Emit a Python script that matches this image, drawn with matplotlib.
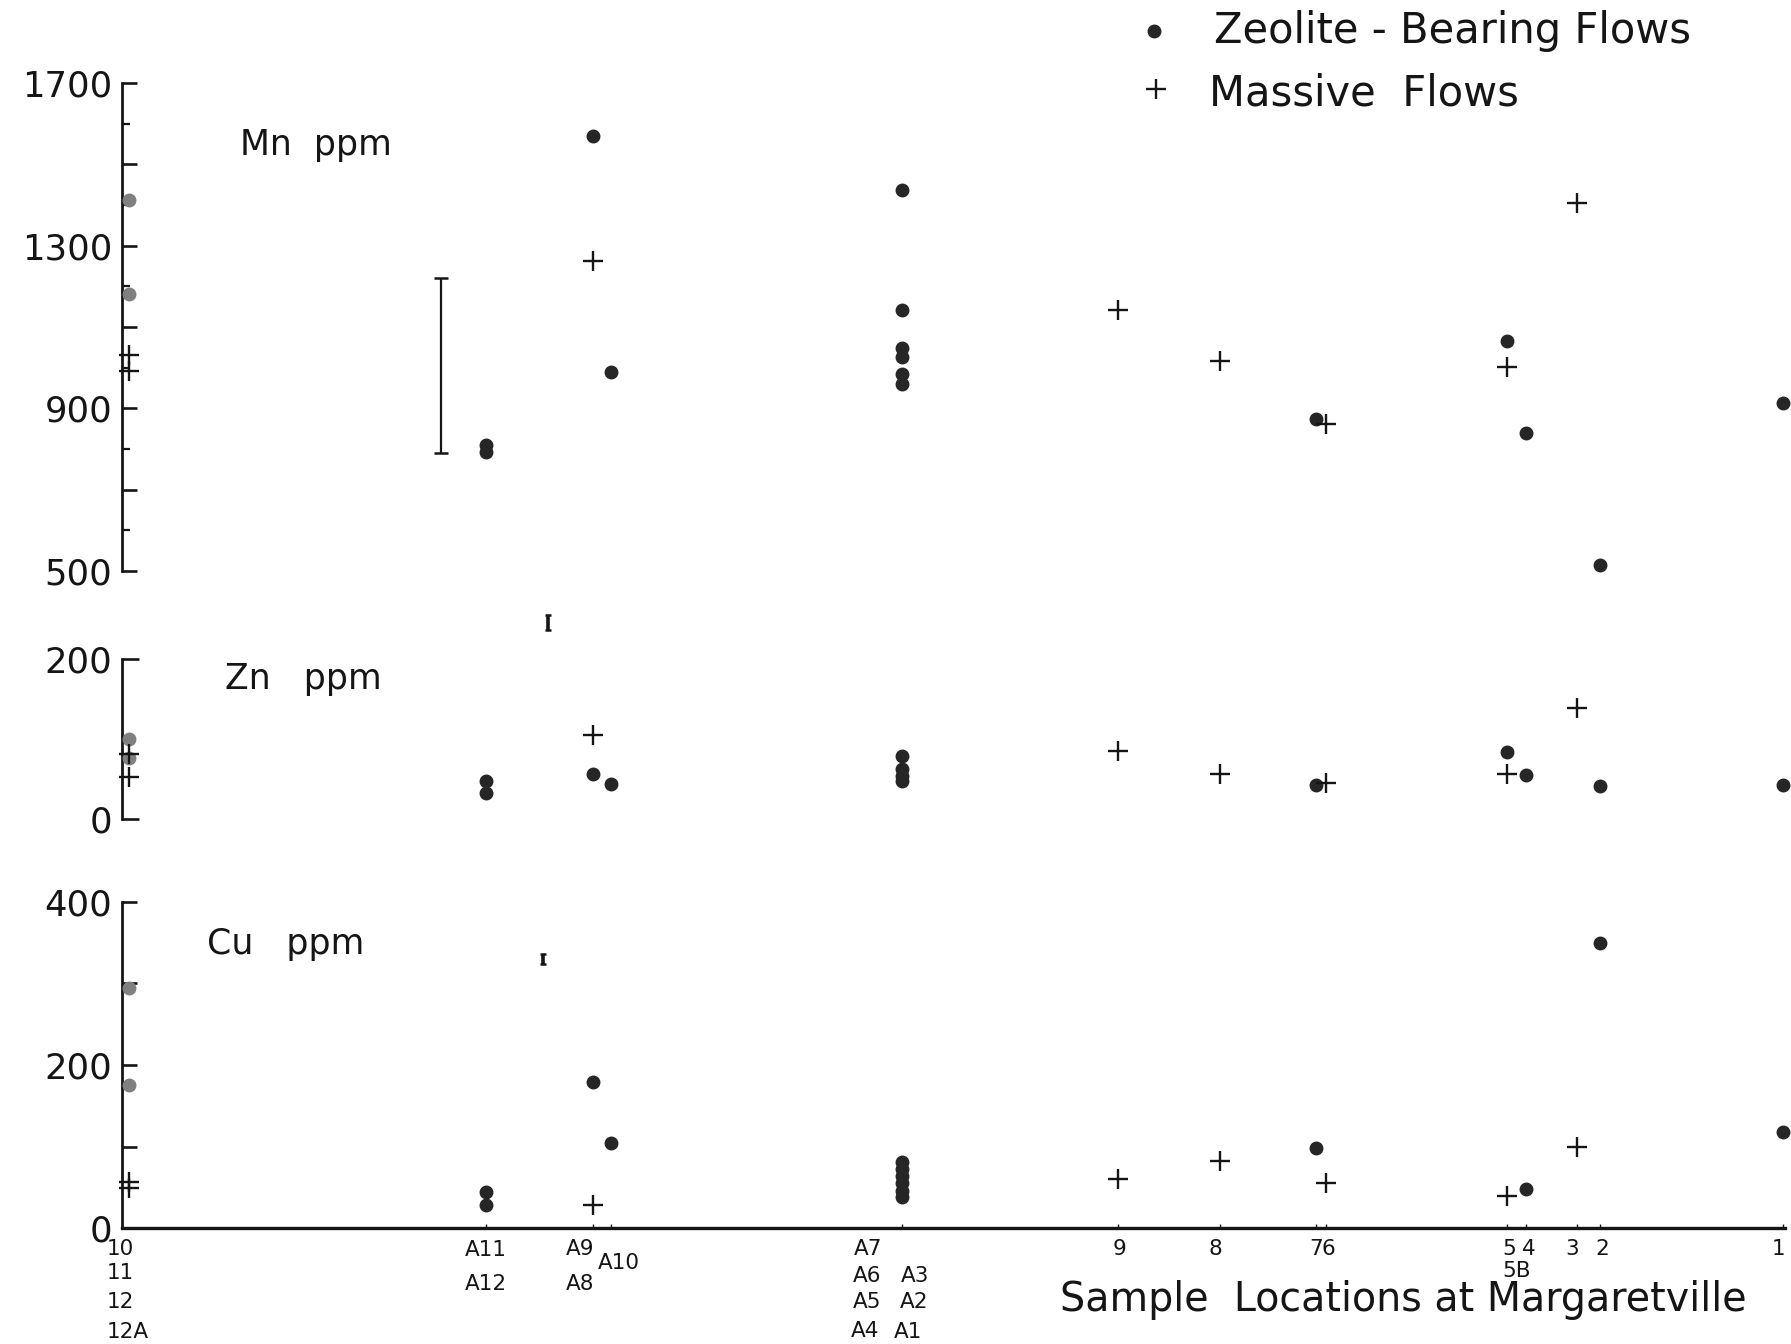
import matplotlib
matplotlib.use("Agg")
import matplotlib.pyplot as plt
from matplotlib.lines import Line2D
from matplotlib.ticker import FixedLocator, FixedFormatter
from matplotlib.transforms import blended_transform_factory

plt.rcParams["font.family"] = ["DejaVu Sans"]

# Sample locations along the Margaretville shore section (relative distance 0-100)
locations = ["10-12A", "A11-A12", "A8-A9", "A10", "A1-A7", "9", "8", "7", "6",
             "5", "4", "3", "2", "1"]
location_pos = [0.4, 21.9, 28.3, 29.4, 46.9, 59.9, 66.0, 71.8, 72.4,
                83.3, 84.4, 87.5, 88.9, 99.9]

# Mn (ppm)
mn_zeolite_loc = ["10-12A", "10-12A", "A11-A12", "A11-A12", "A8-A9", "A10",
                  "A1-A7", "A1-A7", "A1-A7", "A1-A7", "A1-A7", "A1-A7",
                  "7", "5", "4", "2", "1"]
mn_zeolite_ppm = [1413, 1180, 810, 793, 1570, 990,
                  1438, 1143, 1048, 1027, 984, 961,
                  873, 1066, 840, 515, 912]
mn_massive_loc = ["10-12A", "10-12A", "A8-A9", "9", "8", "6", "5", "3"]
mn_massive_ppm = [1030, 992, 1262, 1143, 1016, 861, 1002, 1405]

# Zn (ppm)
zn_zeolite_loc = ["10-12A", "10-12A", "A11-A12", "A11-A12", "A8-A9", "A10",
                  "A1-A7", "A1-A7", "A1-A7", "A1-A7",
                  "7", "5", "4", "2", "1"]
zn_zeolite_ppm = [100, 76, 47, 33, 56, 44,
                  79, 62, 54, 47,
                  43, 84, 55, 41, 43]
zn_massive_loc = ["10-12A", "10-12A", "A8-A9", "9", "8", "6", "5", "3"]
zn_massive_ppm = [82, 53, 105, 85, 56, 45, 56, 139]

# Cu (ppm)
cu_zeolite_loc = ["10-12A", "10-12A", "A11-A12", "A11-A12", "A8-A9", "A10",
                  "A1-A7", "A1-A7", "A1-A7", "A1-A7", "A1-A7", "A1-A7",
                  "7", "4", "2", "1"]
cu_zeolite_ppm = [294, 176, 44, 29, 179, 104,
                  81, 73, 64, 55, 46, 38,
                  98, 48, 350, 118]
cu_massive_loc = ["10-12A", "10-12A", "A8-A9", "9", "8", "6", "5", "3"]
cu_massive_ppm = [57, 49, 29, 60, 82, 56, 40, 100]

# Analytical precision bars (position, centre, half-range) for Mn, Zn, Cu
precision_x = [19.2, 25.6, 25.3]
precision_mid = [1004.5, 246, 330]
precision_half = [215.5, 9, 6]

# Axis ranges and ticks
mn_range = (500, 1700)
zn_range = (0, 200)
cu_range = (0, 400)
mn_ticks = [500, 700, 900, 1100, 1300, 1500, 1700]
mn_tick_labels = ["500", "", "900", "", "1300", "", "1700"]
mn_minor = [600, 800, 1000, 1200, 1400, 1600]
zn_ticks = [0, 200]
zn_tick_labels = ["0", "200"]
cu_ticks = [0, 100, 200, 300, 400]
cu_tick_labels = ["0", "", "200", "", "400"]

INK = "#151515"
DOT = "#262626"
FADED = "#808080"

W, H = 1791, 1344
fig = plt.figure(figsize=(W / 100, H / 100), dpi=100)
fig.patch.set_facecolor("white")


def rect(left, right, top, bottom):
    return [left / W, 1 - bottom / H, (right - left) / W, (bottom - top) / H]


def label_at(txt, x, y, size):
    fig.text(x / W, 1 - y / H, txt, fontsize=size, color=INK, ha="left", va="center")


ax_mn = fig.add_axes(rect(122, 1785, 83, 571))
ax_zn = fig.add_axes(rect(122, 1785, 659.3, 819))
ax_cu = fig.add_axes(rect(122, 1785, 901.7, 1228.3))

pos_of = dict(zip(locations, location_pos))


def draw_panel(ax, zl, zv, ml, mv):
    zx = [pos_of[l] for l in zl]
    zc = [FADED if l == locations[0] else DOT for l in zl]
    for x, v, c in zip(zx, zv, zc):
        ax.plot(x, v, "o", ms=9.0, color=c, mec=c, clip_on=False, zorder=3)
    ax.plot([pos_of[l] for l in ml], mv, "+", ms=15, mew=1.7, color=INK,
            linestyle="none", clip_on=False, zorder=3)


draw_panel(ax_mn, mn_zeolite_loc, mn_zeolite_ppm, mn_massive_loc, mn_massive_ppm)
draw_panel(ax_zn, zn_zeolite_loc, zn_zeolite_ppm, zn_massive_loc, zn_massive_ppm)
draw_panel(ax_cu, cu_zeolite_loc, cu_zeolite_ppm, cu_massive_loc, cu_massive_ppm)

for ax, x, m, h, cs, lw in zip([ax_mn, ax_zn, ax_cu], precision_x, precision_mid,
                               precision_half, [5, 2.5, 2.5], [1.6, 2.6, 2.6]):
    ax.errorbar(x, m, yerr=h, fmt="none", ecolor=INK, elinewidth=lw,
                capsize=cs, capthick=1.8, clip_on=False)

for ax, rng, ticks, labels in [(ax_mn, mn_range, mn_ticks, mn_tick_labels),
                               (ax_zn, zn_range, zn_ticks, zn_tick_labels),
                               (ax_cu, cu_range, cu_ticks, cu_tick_labels)]:
    ax.set_xlim(0, 100)
    ax.set_ylim(*rng)
    ax.patch.set_alpha(0)
    for s in ["top", "right", "bottom"]:
        ax.spines[s].set_visible(False)
    ax.spines["left"].set_linewidth(2.0)
    ax.spines["left"].set_color(INK)
    ax.yaxis.set_major_locator(FixedLocator(ticks))
    ax.yaxis.set_major_formatter(FixedFormatter(labels))
    ax.tick_params(axis="y", which="major", direction="in", length=11, width=1.9,
                   pad=7, labelsize=25.5, colors=INK)
    ax.set_xticks([])

ax_mn.yaxis.set_minor_locator(FixedLocator(mn_minor))
ax_mn.tick_params(axis="y", which="minor", direction="in", length=5.5, width=1.6,
                  colors=INK)
ax_zn.tick_params(axis="y", which="major", length=12)

# sample-location axis along the bottom of the Cu panel
ax_cu.spines["bottom"].set_visible(True)
ax_cu.spines["bottom"].set_linewidth(2.4)
ax_cu.spines["bottom"].set_color(INK)
ax_cu.set_xticks(location_pos[1:])
ax_cu.tick_params(axis="x", direction="in", length=3, width=1.0, labelbottom=False,
                  colors=INK)

# panel titles
label_at("Mn  ppm", 240, 145, 25)
label_at("Zn   ppm", 225, 679, 25)
label_at("Cu   ppm", 207, 944, 25)

# sample labels under the location axis
bottom_labels = [
    ("10", -0.9, 1249, "left"), ("11", -0.9, 1273, "left"),
    ("12", -0.9, 1302, "left"), ("12A", -0.9, 1332, "left"),
    ("A11", 21.86, 1250, "center"), ("A12", 21.86, 1284, "center"),
    ("A9", 27.56, 1249, "center"), ("A8", 27.56, 1284, "center"),
    ("A10", 29.9, 1263, "center"),
    ("A7", 44.86, 1249, "center"), ("A6", 44.8, 1276, "center"),
    ("A5", 44.8, 1302, "center"), ("A4", 44.66, 1331, "center"),
    ("A3", 47.69, 1276, "center"), ("A2", 47.62, 1302, "center"),
    ("A1", 47.28, 1332, "center"),
    ("9", 59.98, 1249, "center"), ("8", 65.76, 1249, "center"),
    ("7", 71.8, 1249, "center"), ("6", 72.55, 1249, "center"),
    ("5", 83.4, 1249, "center"), ("4", 84.6, 1249, "center"),
    ("5B", 83.83, 1271, "center"), ("3", 87.2, 1249, "center"),
    ("2", 89.0, 1249, "center"), ("1", 99.6, 1249, "center"),
]
btrans = blended_transform_factory(ax_cu.transData, fig.transFigure)
for txt, x, y, ha in bottom_labels:
    ax_cu.text(x, 1 - y / H, txt, transform=btrans, fontsize=15.5, color=INK,
               ha=ha, va="center", clip_on=False)

label_at("Sample  Locations at Margaretville", 1060, 1300, 28.5)

# key
fig.add_artist(Line2D([1154 / W], [1 - 31 / H], marker="o", ms=9.0, color=DOT,
                      transform=fig.transFigure, linestyle="none"))
fig.add_artist(Line2D([1156 / W], [1 - 89 / H], marker="+", ms=15, mew=1.7,
                      color=INK, transform=fig.transFigure, linestyle="none"))
label_at("Zeolite - Bearing Flows", 1214, 31, 30)
label_at("Massive  Flows", 1209, 93, 30)

fig.savefig("out.png", dpi=100, facecolor="white")
